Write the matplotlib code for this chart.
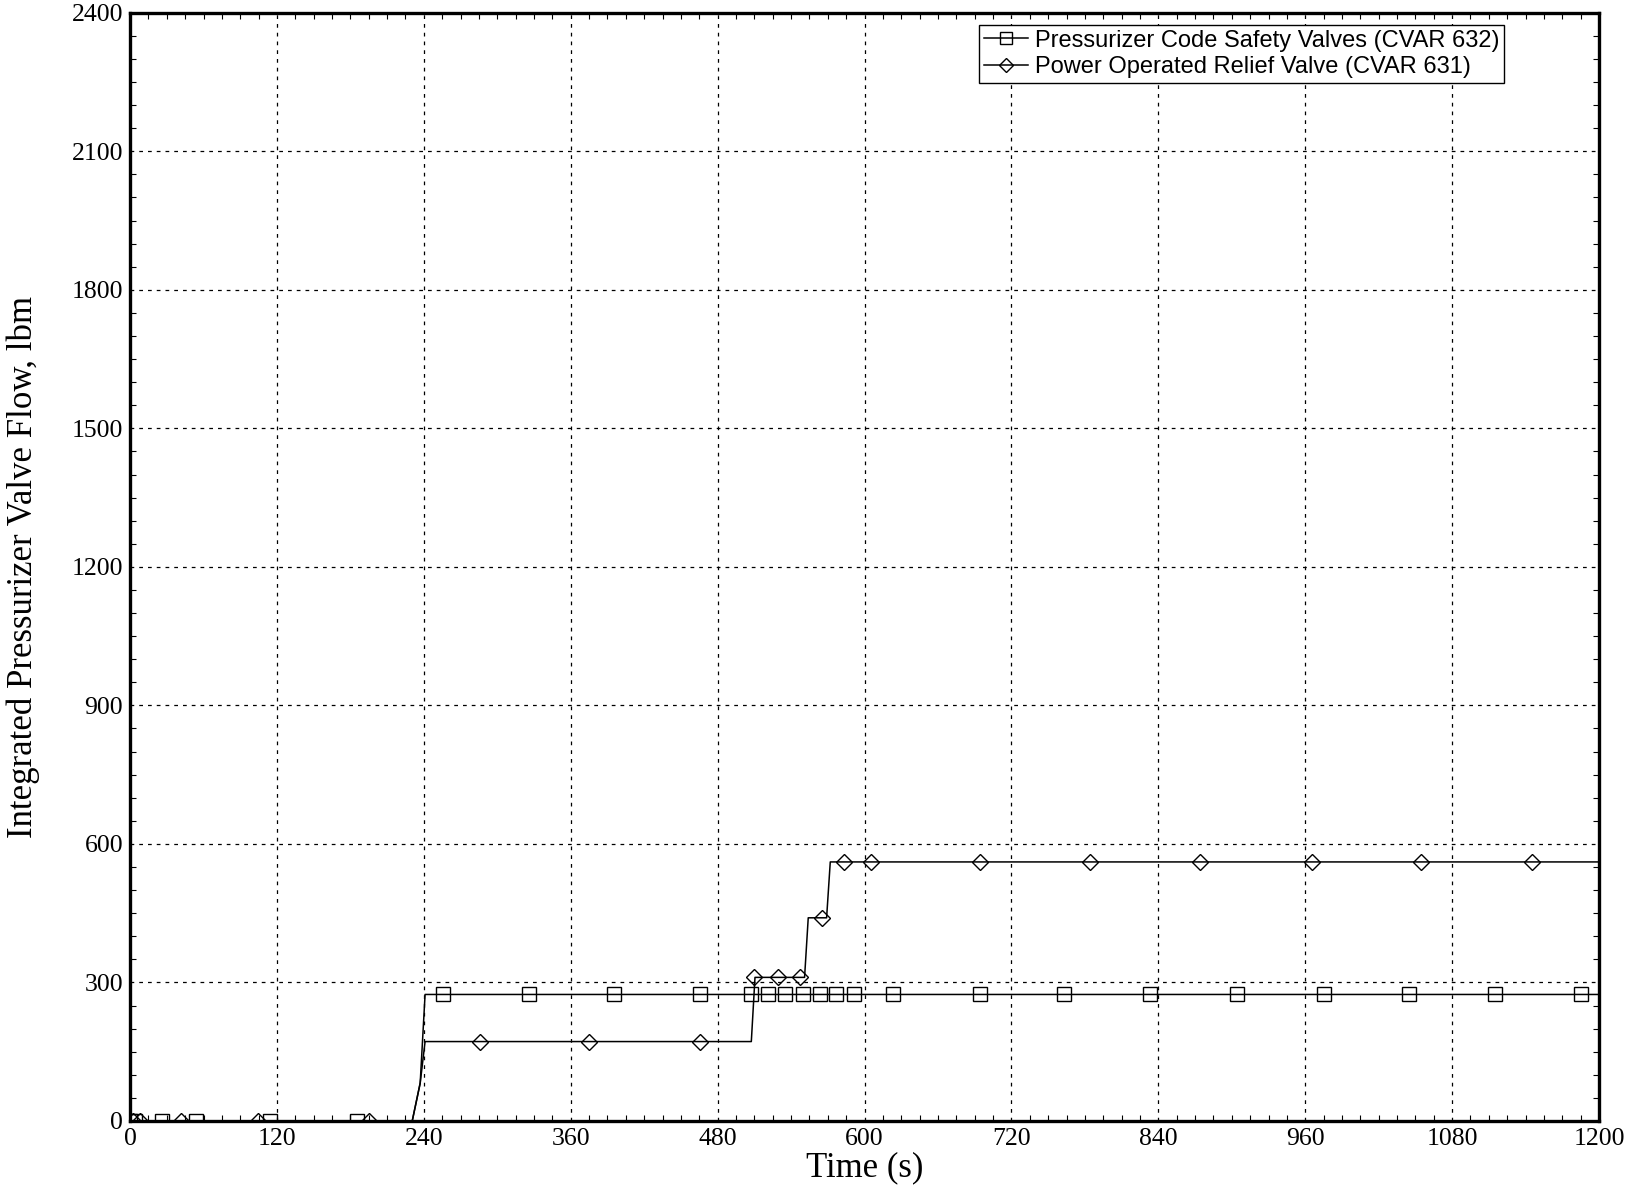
import matplotlib
matplotlib.use("Agg")
import matplotlib.pyplot as plt
from matplotlib.legend_handler import HandlerLine2D
from matplotlib.ticker import MultipleLocator
import numpy as np

# Integrated flow through the pressurizer valves (lbm) vs time (s)
code_t = [0, 230.5, 237, 241, 1200]
code_v = [0, 0, 82, 274, 274]

porv_t = [0, 230.5, 237, 241, 507.5, 510.5, 551, 554, 569, 572, 1200]
porv_v = [0, 0, 82, 172, 172, 311, 311, 440, 440, 561, 561]

# symbol locations along each curve
code_mark_t = [0, 4, 26, 53.5, 114.7, 185, 256, 326, 395.6, 465.6, 507.3, 521,
               535, 549.5, 563.6, 577, 591, 623.5, 694, 763, 833, 904, 975.6,
               1044.8, 1115, 1185.3]
code_mark_v = [0, 0, 0, 0, 0, 0, 274, 274, 274, 274, 274, 274, 274, 274, 274,
               274, 274, 274, 274, 274, 274, 274, 274, 274, 274, 274]

porv_mark_t = [2, 8, 41.5, 104.6, 195, 286, 375, 465.6, 510, 529, 547, 565.5,
               583, 605, 694, 784, 874, 965.8, 1054.3, 1145.5]
porv_mark_v = [0, 0, 0, 0, 0, 172, 172, 172, 311, 311, 311, 440, 561, 561, 561,
               561, 561, 561, 561, 561]

labels = ["Pressurizer Code Safety Valves (CVAR 632)",
          "Power Operated Relief Valve (CVAR 631)"]


class EndMarkerHandler(HandlerLine2D):
    # legend sample: short line with the symbol at its right end
    def get_xdata(self, legend, xdescent, ydescent, width, height, fontsize):
        xdata = np.array([-xdescent, -xdescent + width])
        return xdata, xdata[-1:]


fig = plt.figure(figsize=(16.34, 11.89), dpi=100)
ax = fig.add_axes([0.0796, 0.0572, 0.899, 0.9321])

ax.plot(code_t, code_v, color="black", lw=1.1)
ax.plot(code_mark_t, code_mark_v, ls="none", marker="s", ms=9.5,
        mfc="none", mec="black", mew=1.0)
ax.plot(porv_t, porv_v, color="black", lw=1.1)
ax.plot(porv_mark_t, porv_mark_v, ls="none", marker="D", ms=8,
        mfc="none", mec="black", mew=1.0)

h1, = ax.plot([], [], color="black", lw=1.1, marker="s", ms=8,
              mfc="none", mec="black")
h2, = ax.plot([], [], color="black", lw=1.1, marker="D", ms=7,
              mfc="none", mec="black")

leg = ax.legend([h1, h2], labels, loc="upper left",
                bbox_to_anchor=(0.578, 0.989), numpoints=1,
                handler_map={h1: EndMarkerHandler(), h2: EndMarkerHandler()},
                handlelength=1.85, handletextpad=0.3, borderpad=0.2,
                labelspacing=0.2, borderaxespad=0.0, fancybox=False,
                framealpha=1, edgecolor="black",
                prop={"family": "Liberation Sans", "size": 17})
leg.get_frame().set_linewidth(1.0)

ax.set_xlim(0, 1200)
ax.set_ylim(0, 2400)
ax.xaxis.set_major_locator(MultipleLocator(120))
ax.yaxis.set_major_locator(MultipleLocator(300))
ax.xaxis.set_minor_locator(MultipleLocator(15))
ax.yaxis.set_minor_locator(MultipleLocator(50))

ax.grid(True, which="major", color="black", lw=0.9, ls=(0, (3, 4)))
ax.tick_params(which="both", direction="in", top=True, right=True,
               color="black")
ax.tick_params(which="major", length=0, pad=5)
ax.tick_params(which="minor", length=4, width=0.8)
for lab in ax.get_xticklabels() + ax.get_yticklabels():
    lab.set_family("Liberation Serif")
    lab.set_fontsize(18.5)

for sp in ax.spines.values():
    sp.set_linewidth(2.4)

ax.set_xlabel("Time (s)", family="Liberation Serif", fontsize=25)
ax.set_ylabel("Integrated Pressurizer Valve Flow, lbm",
              family="Liberation Serif", fontsize=25)
ax.xaxis.set_label_coords(0.5, -0.027)
ax.yaxis.set_label_coords(-0.061, 0.5)

fig.savefig("out.png", dpi=100)
